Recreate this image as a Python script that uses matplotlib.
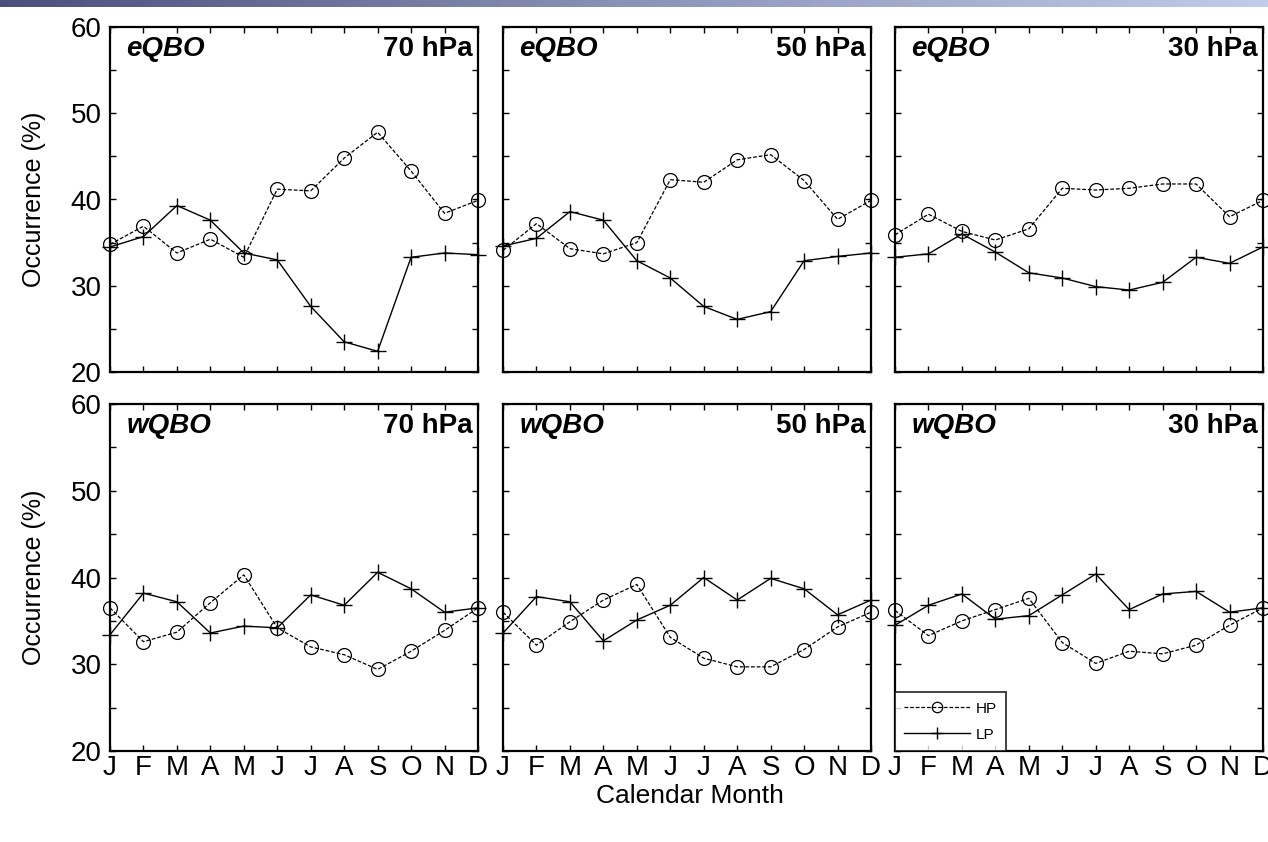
import numpy as np
import matplotlib
matplotlib.use("Agg")
import matplotlib.pyplot as plt
from matplotlib.ticker import MultipleLocator
from matplotlib.colors import LinearSegmentedColormap

plt.rcParams['font.family'] = ['Liberation Sans', 'DejaVu Sans']

months = ['J', 'F', 'M', 'A', 'M', 'J', 'J', 'A', 'S', 'O', 'N', 'D']
levels = ['70 hPa', '50 hPa', '30 hPa']
phases = ['eQBO', 'wQBO']

# eQBO
hp_e70 = [34.8, 36.9, 33.8, 35.4, 33.3, 41.2, 41.0, 44.8, 47.8, 43.3, 38.4, 39.9]
lp_e70 = [34.5, 35.7, 39.3, 37.6, 33.8, 33.0, 27.6, 23.5, 22.4, 33.3, 33.8, 33.6]
hp_e50 = [34.1, 37.2, 34.3, 33.7, 35.0, 42.3, 42.0, 44.6, 45.2, 42.2, 37.7, 39.9]
lp_e50 = [34.6, 35.5, 38.6, 37.6, 32.9, 30.9, 27.6, 26.1, 27.0, 32.9, 33.4, 33.8]
hp_e30 = [35.9, 38.3, 36.3, 35.3, 36.6, 41.3, 41.1, 41.3, 41.8, 41.8, 38.0, 39.9]
lp_e30 = [33.3, 33.7, 36.0, 33.9, 31.5, 30.9, 29.9, 29.5, 30.4, 33.3, 32.6, 34.5]
# wQBO
hp_w70 = [36.5, 32.6, 33.7, 37.1, 40.3, 34.2, 32.0, 31.1, 29.4, 31.5, 33.9, 36.5]
lp_w70 = [33.4, 38.2, 37.2, 33.6, 34.4, 34.2, 38.0, 36.8, 40.6, 38.7, 36.0, 36.5]
hp_w50 = [36.0, 32.2, 34.9, 37.4, 39.2, 33.1, 30.7, 29.7, 29.7, 31.7, 34.3, 36.0]
lp_w50 = [33.6, 37.8, 37.2, 32.7, 35.1, 36.8, 40.0, 37.4, 39.9, 38.7, 35.7, 37.4]
hp_w30 = [36.2, 33.3, 35.0, 36.3, 37.6, 32.5, 30.1, 31.5, 31.2, 32.2, 34.5, 36.5]
lp_w30 = [34.5, 36.8, 38.1, 35.2, 35.6, 38.0, 40.4, 36.3, 38.1, 38.4, 36.0, 36.5]

hp = [[hp_e70, hp_e50, hp_e30], [hp_w70, hp_w50, hp_w30]]
lp = [[lp_e70, lp_e50, lp_e30], [lp_w70, lp_w50, lp_w30]]

W, H = 1268, 842
fig = plt.figure(figsize=(W / 100, H / 100), dpi=100)

# top gradient banner
bax = fig.add_axes([0, 1 - 7 / H, 1, 7 / H])
grad = np.linspace(0, 1, 256)[None, :]
cmap = LinearSegmentedColormap.from_list('band', ['#4b4f7d', '#8c93b8', '#c3cbea'])
bax.imshow(grad, aspect='auto', cmap=cmap, extent=[0, 1, 0, 1])
bax.axis('off')

lefts = [110, 503, 895]
pw = 368
tops = [27, 404]
ph = [345, 347]

x = np.arange(1, 13)
for r in range(2):
    for c in range(3):
        ax = fig.add_axes([lefts[c] / W, 1 - (tops[r] + ph[r]) / H, pw / W, ph[r] / H])
        l1, = ax.plot(x, hp[r][c], color='black', lw=0.9, ls=(0, (3, 1.5)),
                      marker='o', ms=10, mfc='none', mec='black', mew=0.9,
                      clip_on=False, zorder=3, label='HP')
        l2, = ax.plot(x, lp[r][c], color='black', lw=1.0, ls='-',
                      marker='+', ms=12, mew=1.0, clip_on=False, zorder=3, label='LP')
        ax.set_xlim(1, 12)
        ax.set_ylim(20, 60)
        ax.set_xticks(x)
        ax.yaxis.set_major_locator(MultipleLocator(10))
        ax.yaxis.set_minor_locator(MultipleLocator(5))
        ax.tick_params(axis='both', which='both', direction='in', top=True, right=True,
                       length=4, width=1.0)
        ax.tick_params(axis='x', labelsize=20, pad=3)
        ax.tick_params(axis='y', labelsize=20, pad=6)
        for s in ax.spines.values():
            s.set_linewidth(1.6)
        if r == 1:
            ax.set_xticklabels(months)
        else:
            ax.set_xticklabels([])
        if c == 0:
            ax.set_ylabel('Occurrence (%)', fontsize=18, labelpad=18)
        else:
            ax.set_yticklabels([])
        ax.text(0.045, 0.975, phases[r], transform=ax.transAxes, fontsize=20,
                fontstyle='italic', fontweight='bold', ha='left', va='top')
        ax.text(0.985, 0.975, levels[c], transform=ax.transAxes, fontsize=20,
                fontweight='bold', ha='right', va='top')
        if r == 1 and c == 2:
            leg = ax.legend(handles=[l1, l2], loc='lower left', fontsize=11,
                            frameon=True, fancybox=False, edgecolor='black',
                            handlelength=4.3, borderaxespad=0, markerscale=0.75,
                            borderpad=0.6, labelspacing=0.8, handletextpad=0.4)
            leg.get_frame().set_linewidth(1.3)

fig.text(690 / W, 1 - 796 / H, 'Calendar Month', fontsize=19, ha='center', va='center')

fig.savefig('out.png', dpi=100)
